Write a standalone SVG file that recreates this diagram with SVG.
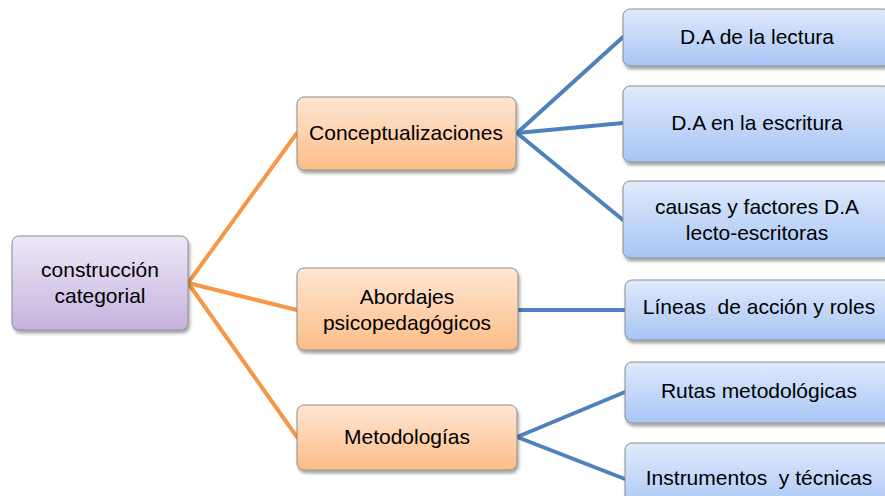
<svg xmlns="http://www.w3.org/2000/svg" width="885" height="496" viewBox="0 0 885 496">
<style>
.box{stroke:#8c8c8c;stroke-width:1;filter:url(#sh)}
.t{font-family:"Liberation Sans",Arial,sans-serif;font-size:21px;fill:#000;text-anchor:middle}
.oc{stroke:#f79646;stroke-width:4;fill:none;stroke-linecap:round}
.bc{stroke:#4f81bd;stroke-width:4;fill:none;stroke-linecap:round}
</style>
<defs>
<linearGradient id="gp" x1="0" y1="0" x2="0" y2="1"><stop offset="0" stop-color="#eee8f7"/><stop offset="1" stop-color="#c6b2df"/></linearGradient>
<linearGradient id="go" x1="0" y1="0" x2="0" y2="1"><stop offset="0" stop-color="#ffe6d3"/><stop offset="1" stop-color="#fcbd87"/></linearGradient>
<linearGradient id="gb" x1="0" y1="0" x2="0" y2="1"><stop offset="0" stop-color="#e0eafc"/><stop offset="1" stop-color="#a7c5f5"/></linearGradient>
<filter id="sh" x="-10%" y="-10%" width="125%" height="130%"><feDropShadow dx="1.5" dy="3" stdDeviation="1.8" flood-color="#000" flood-opacity="0.35"/></filter>
</defs>
<rect width="885" height="496" fill="#fff"/>
<g id="connectors">
<line class="oc" x1="188" y1="283" x2="297" y2="133"/>
<line class="oc" x1="188" y1="283" x2="297" y2="310"/>
<line class="oc" x1="188" y1="283" x2="297" y2="437"/>
<line class="bc" x1="517" y1="133" x2="623" y2="37"/>
<line class="bc" x1="517" y1="133" x2="623" y2="123"/>
<line class="bc" x1="517" y1="133" x2="623" y2="220"/>
<line class="bc" x1="518" y1="310" x2="625" y2="310"/>
<line class="bc" x1="517" y1="437" x2="625" y2="392"/>
<line class="bc" x1="517" y1="437" x2="625" y2="479"/>
</g>
<g id="root"><rect class="box" x="12" y="236" width="176" height="94" rx="7" fill="url(#gp)"/><text class="t" x="100" y="277">construcción</text><text class="t" x="100" y="303">categorial</text></g>
<g id="conceptualizaciones"><rect class="box" x="297" y="97" width="219" height="73" rx="7" fill="url(#go)"/><text class="t" x="406" y="140">Conceptualizaciones</text></g>
<g id="abordajes"><rect class="box" x="297" y="268" width="221" height="82" rx="7" fill="url(#go)"/><text class="t" x="407" y="304">Abordajes</text><text class="t" x="407" y="330">psicopedagógicos</text></g>
<g id="metodologias"><rect class="box" x="297" y="405" width="220" height="65" rx="7" fill="url(#go)"/><text class="t" x="407" y="444">Metodologías</text></g>
<g id="lectura"><rect class="box" x="623" y="9" width="268" height="57" rx="7" fill="url(#gb)"/><text class="t" x="757" y="44">D.A de la lectura</text></g>
<g id="escritura"><rect class="box" x="623" y="86" width="268" height="76" rx="7" fill="url(#gb)"/><text class="t" x="757" y="130">D.A en la escritura</text></g>
<g id="causas"><rect class="box" x="623" y="181" width="268" height="77" rx="7" fill="url(#gb)"/><text class="t" x="757" y="214">causas y factores D.A</text><text class="t" x="757" y="240">lecto-escritoras</text></g>
<g id="lineas"><rect class="box" x="625" y="280" width="268" height="60" rx="7" fill="url(#gb)"/><text class="t" x="759" y="314" xml:space="preserve">Líneas  de acción y roles</text></g>
<g id="rutas"><rect class="box" x="625" y="362" width="268" height="61" rx="7" fill="url(#gb)"/><text class="t" x="759" y="398">Rutas metodológicas</text></g>
<g id="instrumentos"><rect class="box" x="625" y="443" width="268" height="70" rx="7" fill="url(#gb)"/><text class="t" x="759" y="485" xml:space="preserve">Instrumentos  y técnicas</text></g>
</svg>
